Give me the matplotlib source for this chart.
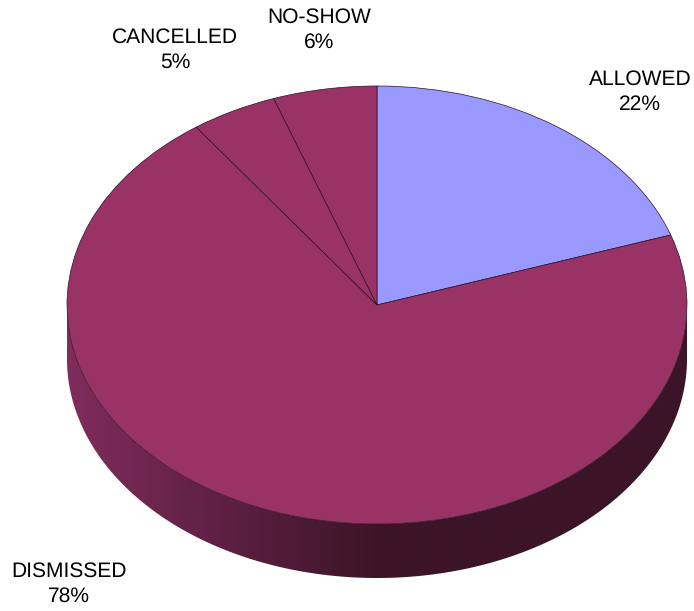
import numpy as np
import matplotlib
matplotlib.use("Agg")
import matplotlib.pyplot as plt
from matplotlib.colors import LinearSegmentedColormap
from matplotlib.patches import Polygon

categories = ["ALLOWED", "DISMISSED", "CANCELLED", "NO-SHOW"]
values = [22, 78, 5, 6]
slice_colors = ["#9999FF", "#993366", "#993366", "#993366"]
label_centers = [(640, 91), (69, 583), (175, 49), (319, 29)]

W, H = 694, 611
CX, CY, RX, RY, DEPTH = 377, 305, 310, 219, 54

plt.rcParams["font.family"] = ["Liberation Sans", "DejaVu Sans"]
plt.rcParams["text.hinting"] = "none"
plt.rcParams["text.hinting_factor"] = 1
fig = plt.figure(figsize=(W / 100, H / 100), dpi=100, facecolor="white")
ax = fig.add_axes([0, 0, 1, 1])

d = DEPTH / RY
# side wall: gradient image clipped to the front half of the extruded ellipse
cmap = LinearSegmentedColormap.from_list("wall", ["#802C5C", "#3C1428", "#3C1428"])
grad = np.linspace(0, 1, 512).reshape(1, -1)
img = ax.imshow(grad, cmap=cmap, extent=(-1, 1, -1 - d, 0.01), aspect="auto",
                zorder=1, interpolation="bilinear")
th = np.linspace(np.pi, 2 * np.pi, 400)
wall = np.column_stack([np.r_[np.cos(th), np.cos(th[::-1])],
                        np.r_[np.sin(th), np.sin(th[::-1]) - d]])
clip = Polygon(wall, closed=True, transform=ax.transData, facecolor="none",
               edgecolor="none")
ax.add_patch(clip)
img.set_clip_path(clip)

wedges, _ = ax.pie(
    values,
    colors=slice_colors,
    startangle=90,
    counterclock=False,
    radius=1.0,
    wedgeprops=dict(edgecolor="#2b1020", linewidth=0.5),
)
for w in wedges:
    w.set_zorder(2)

ax.set_aspect("auto")
ax.set_xlim(-CX / RX, (W - CX) / RX)
ax.set_ylim((CY - H) / RY, CY / RY)
ax.axis("off")

for name, val, (x, y) in zip(categories, values, label_centers):
    fig.text(x / W, 1 - (y + 1) / H, f"{name}\n{val}%", ha="center", va="center",
             fontsize=15.4, color="#000000", linespacing=1.32)

fig.savefig("out.png", dpi=100, facecolor="white")
